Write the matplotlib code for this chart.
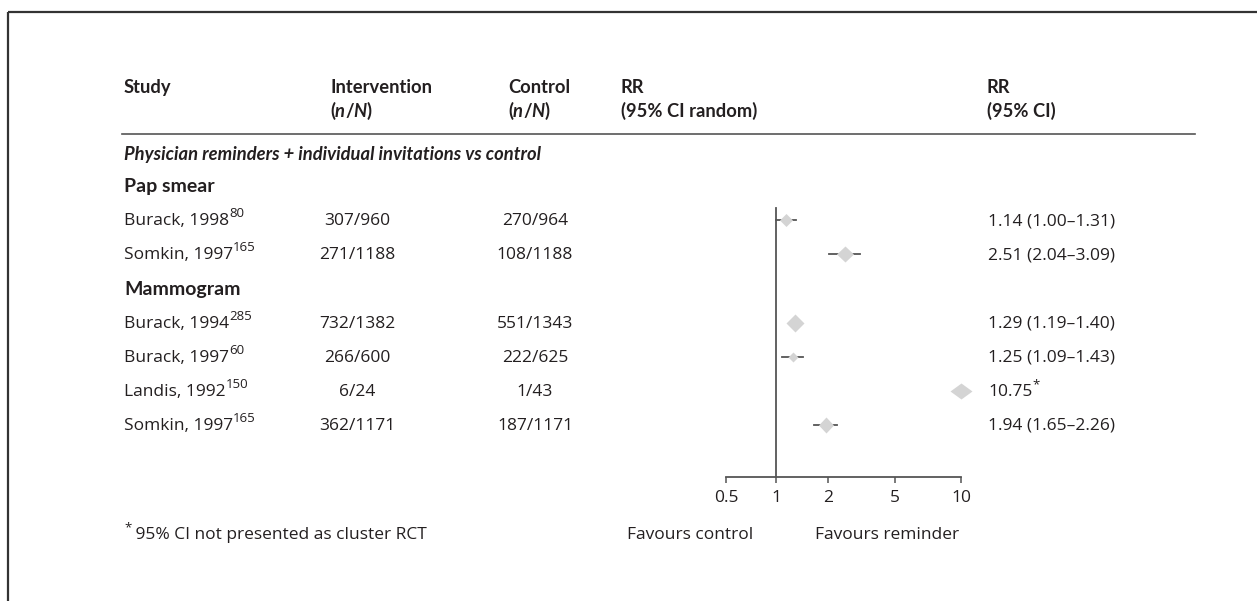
import numpy as np
import matplotlib
matplotlib.use("Agg")
import matplotlib.pyplot as plt

plt.rcParams['font.family'] = ['Open Sans', 'DejaVu Sans']

# data
section = "Physician reminders + individual invitations vs control"
groups = ["Pap smear", "Mammogram"]
studies = ["Burack, 1998", "Somkin, 1997", "Burack, 1994", "Burack, 1997", "Landis, 1992", "Somkin, 1997"]
refs = ["80", "165", "285", "60", "150", "165"]
intervention = ["307/960", "271/1188", "732/1382", "266/600", "6/24", "362/1171"]
control = ["270/964", "108/1188", "551/1343", "222/625", "1/43", "187/1171"]
rr = [1.14, 2.51, 1.29, 1.25, 10.75, 1.94]
ci_low = [1.00, 2.04, 1.19, 1.09, np.nan, 1.65]
ci_high = [1.31, 3.09, 1.40, 1.43, np.nan, 2.26]
axis_ticks = [0.5, 1, 2, 5, 10]
footnote = "95% CI not presented as cluster RCT"

# layout (pixels)
W, H = 1257, 601
tick_px = [726, 776, 828, 895, 961]
diamond_w = [13, 17, 18, 10, 22, 15]
diamond_h = [13, 16, 18, 10, 16, 16]
row_y = [225, 259, 328, 362, 396, 430]   # baselines
group_y = [192, 295]
TXT = '#231f20'
GREY = '#555555'
FS = 12.5
FSB = 13.2
BOLD_FAMILY = ['Lato', 'DejaVu Sans']

fig = plt.figure(figsize=(W / 100, H / 100), dpi=100)
ax = fig.add_axes([0, 0, 1, 1])
ax.set_xlim(0, W)
ax.set_ylim(H, 0)
ax.axis('off')
renderer = fig.canvas.get_renderer()


def pieces(x, y, parts, size=FS, weight='normal', ha='left'):
    # draw a run of text pieces side by side: (string, style, superscript)
    arts = []
    cx = x
    fam = BOLD_FAMILY if weight == 'bold' else plt.rcParams['font.family']
    for s, style, sup in parts:
        t = ax.text(cx, y - (8 if sup else 0), s, fontsize=(9.5 if sup else size),
                    fontweight=weight, fontstyle=style, family=fam,
                    color=TXT, va='baseline', ha='left')
        cx = t.get_window_extent(renderer).x1
        arts.append(t)
    if ha == 'center':
        shift = (cx - x) / 2
        for t in arts:
            t.set_x(t.get_position()[0] - shift)


# frame
ax.plot([8, W], [12, 12], color='#333333', lw=1.6, solid_capstyle='butt')
ax.plot([8, 8], [12, H], color='#333333', lw=1.6, solid_capstyle='butt')

# headers
hb = 'bold'
nN = [("(", 'normal', False), ("n", 'italic', False), ("/", 'normal', False),
      ("N", 'italic', False), (")", 'normal', False)]
pieces(124, 93, [("Study", 'normal', False)], size=FSB, weight=hb)
pieces(330, 93, [("Intervention", 'normal', False)], size=FSB, weight=hb)
pieces(330, 117, nN, size=FSB, weight=hb)
pieces(508, 93, [("Control", 'normal', False)], size=FSB, weight=hb)
pieces(508, 117, nN, size=FSB, weight=hb)
pieces(621, 93, [("RR", 'normal', False)], size=FSB, weight=hb)
pieces(621, 117, [("(95% CI random)", 'normal', False)], size=FSB, weight=hb)
pieces(987, 93, [("RR", 'normal', False)], size=FSB, weight=hb)
pieces(987, 117, [("(95% CI)", 'normal', False)], size=FSB, weight=hb)
ax.plot([122, 1195], [134, 134], color=GREY, lw=1.2)

pieces(124, 160, [(section, 'italic', False)], size=FSB, weight=hb)
for g, gy in zip(groups, group_y):
    pieces(124, gy, [(g, 'normal', False)], size=FSB + 0.8, weight=hb)

for i in range(len(studies)):
    y = row_y[i]
    pieces(124, y, [(studies[i], 'normal', False), (refs[i], 'normal', True)])
    pieces(357, y, [(intervention[i], 'normal', False)], ha='center')
    pieces(535, y, [(control[i], 'normal', False)], ha='center')
    if np.isnan(ci_low[i]):
        pieces(988, y, [(f"{rr[i]:.2f}", 'normal', False), ("*", 'normal', True)])
    else:
        pieces(988, y, [(f"{rr[i]:.2f} ({ci_low[i]:.2f}\u2013{ci_high[i]:.2f})", 'normal', False)])

pieces(124, 539, [("*", 'normal', True), (" " + footnote, 'normal', False)])
ax.text(690, 539, "Favours control", fontsize=FS, color=TXT, ha='center', va='baseline')
ax.text(887, 539, "Favours reminder", fontsize=FS, color=TXT, ha='center', va='baseline')

# forest panel with the original's piecewise log axis
lt = np.log10(axis_ticks)
tp = np.array(tick_px, dtype=float)


def fwd(v):
    v = np.asarray(v, dtype=float)
    return np.interp(np.log10(np.clip(v, 1e-9, None)), lt, tp)


def inv(p):
    return 10 ** np.interp(np.asarray(p, dtype=float), tp, lt)


fax = fig.add_axes([tick_px[0] / W, 0, (tick_px[-1] - tick_px[0]) / W, 1])
fax.patch.set_alpha(0)
fax.set_xscale('function', functions=(fwd, inv))
fax.set_xlim(axis_ticks[0], axis_ticks[-1])
fax.set_ylim(H, 0)
for s in ['top', 'right']:
    fax.spines[s].set_visible(False)
fax.spines['left'].set_position(('data', 1))
fax.spines['left'].set_bounds(208, 477)
fax.spines['bottom'].set_position(('data', 477))
fax.spines['bottom'].set_bounds(axis_ticks[0], axis_ticks[-1])
for s in ['left', 'bottom']:
    fax.spines[s].set_color(GREY)
    fax.spines[s].set_linewidth(1.3)
fax.tick_params(left=False, labelleft=False)
fax.set_xticks(axis_ticks)
fax.set_xticklabels(["0.5", "1", "2", "5", "10"])
fax.tick_params(axis='x', direction='out', length=4, width=1.1, color=GREY,
                labelsize=FS, labelcolor=TXT, pad=5)
fax.minorticks_off()

for i in range(len(rr)):
    y = row_y[i] - 5
    if not np.isnan(ci_low[i]):
        fax.plot([ci_low[i], ci_high[i]], [y, y], color=GREY, lw=1.3, clip_on=False)
    w, h = diamond_w[i], diamond_h[i]
    verts = [(-w / 2, 0), (0, h / 2), (w / 2, 0), (0, -h / 2), (-w / 2, 0)]
    fax.plot([min(rr[i], axis_ticks[-1])], [y], marker=verts, ms=max(w, h) * 0.72,
             color='#d4d4d4', mec='none', ls='none', clip_on=False, zorder=3)

fig.savefig("out.png", dpi=100)
